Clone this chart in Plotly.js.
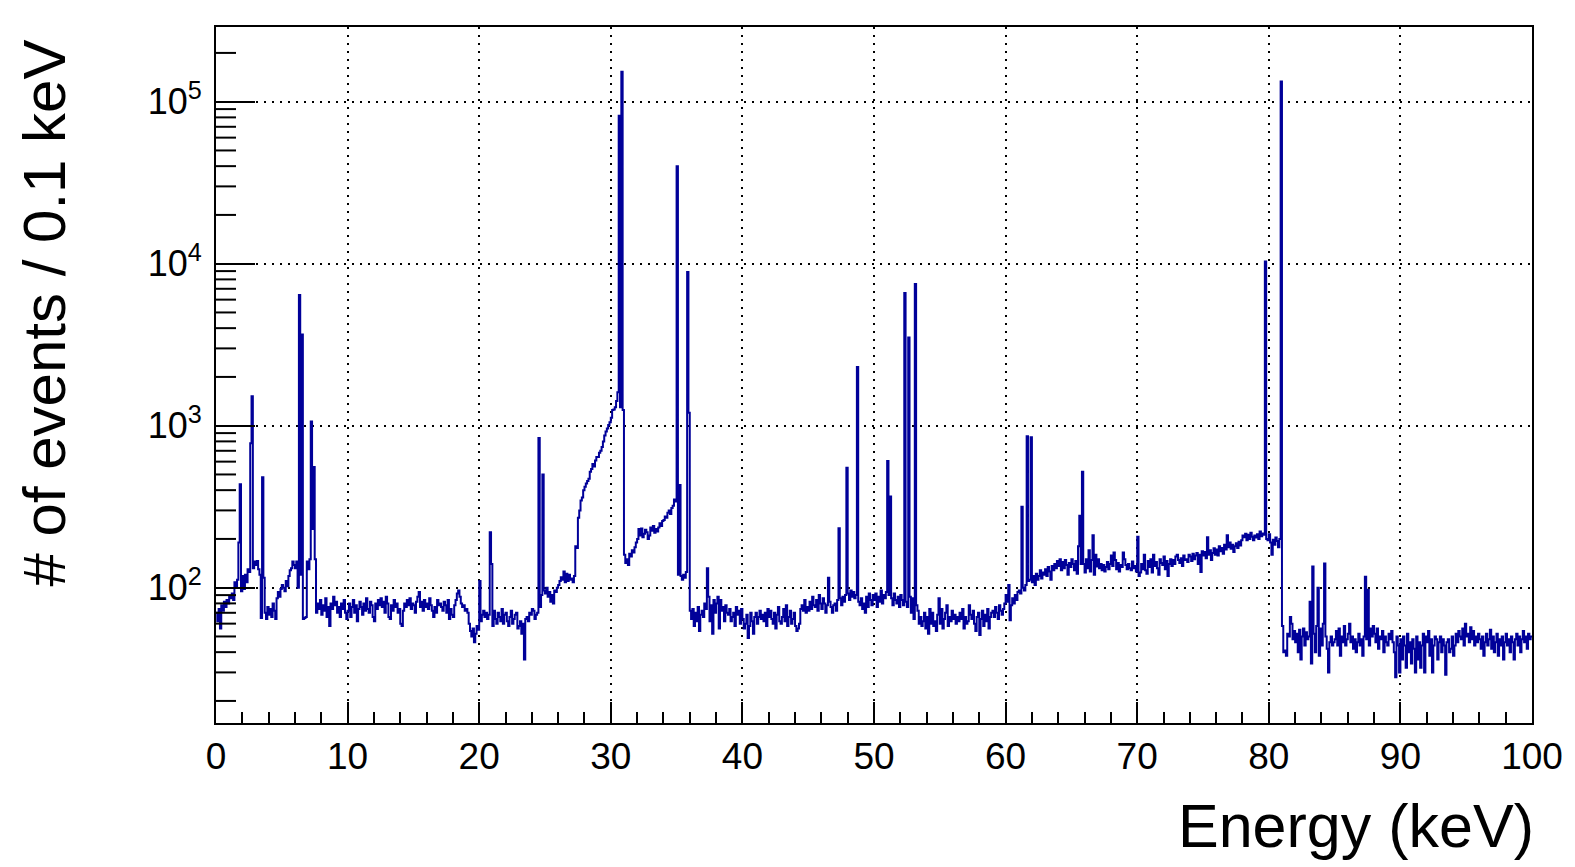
<!DOCTYPE html>
<html>
<head>
<meta charset="utf-8">
<script src="https://cdn.plot.ly/plotly-3.0.1.min.js"></script>
<style>html,body{margin:0;padding:0;background:#fff;}#chart{width:1575px;height:867px;}</style>
</head>
<body>
<div id="chart"></div>
<script>
// Histogram: 0.1 keV bins from 0 to 100 keV, counts per bin
const binWidth = 0.1;
const counts00 = [70,62,74,56,78,72,82,76,84,80, 88,86,92,84,108,100,112,190,435,95,
  118,98,120,108,130,125,780,1520,132,145, 138,146,130,120,65,480,115,70,64,76,
  68,74,66,80,72,64,86,94,88,98, 104,100,95,110,102,118,128,132,145,138,
  132,145,100,6400,120,3650,64,65,66,145, 130,150,1060,230,555,150,70,80,74,84,
  68,78,72,86,66,76,58,80,74,88, 78,82,70,76,66,80,74,84,70,64];
const counts10 = [72,80,66,76,84,70,78,62,74,82, 76,68,80,72,86,74,70,82,78,66,
  62,80,74,84,78,86,76,82,70,88, 80,66,64,78,72,84,76,80,70,74,
  60,58,72,80,76,84,78,86,74,80, 78,70,82,88,94,76,82,72,84,76,
  80,74,86,78,72,66,76,70,84,78, 80,76,72,82,78,70,84,64,74,68,
  66,78,84,92,96,88,80,76,78,72, 74,70,60,54,50,56,46,52,58,55];
const counts20 = [110,62,68,72,66,70,64,68,220,140, 58,72,64,60,70,66,62,74,60,68,
  70,62,58,66,72,60,64,68,70,56, 58,62,52,60,36,64,66,62,70,68,
  74,72,64,68,70,840,76,90,500,96, 92,100,88,94,82,90,80,96,94,100,
  104,110,116,112,126,108,122,110,120,112, 114,108,118,180,176,270,300,345,360,400,
  420,440,455,470,520,540,580,560,610,640, 640,680,700,740,800,870,920,960,1010,1050];
const counts30 = [1120,1250,1260,1300,1420,1610,82000,1300,153000,1250, 160,142,150,138,162,156,170,165,178,190,
  200,230,210,232,205,215,228,220,200,210, 235,225,240,218,230,222,235,250,240,258,
  262,275,270,290,300,285,310,320,350,340, 40000,120,430,118,112,120,115,125,8900,1200,
  72,64,74,58,70,62,76,54,68,72, 66,80,74,132,88,62,78,52,84,70,
  80,88,56,84,72,76,62,78,70,68, 74,62,66,70,58,76,68,72,60,74];
const counts40 = [64,56,60,68,49,58,70,62,52,66, 70,60,66,72,64,68,62,70,58,74,
  66,72,64,60,70,56,68,76,62,60, 66,74,62,78,58,66,72,60,64,70,
  58,54,56,60,74,78,72,84,70,76, 72,82,74,88,78,76,84,72,90,80,
  74,86,80,70,78,115,82,76,70,78, 80,72,84,233,86,78,88,82,90,550,
  92,84,96,88,94,86,90,2300,82,78, 86,74,80,70,88,76,92,84,78,90];
const counts50 = [84,92,76,88,82,96,80,90,86,94, 605,90,365,86,78,92,84,80,88,76,
  90,84,78,6600,82,76,3500,88,70,86, 64,7500,78,72,60,66,58,62,70,56,
  66,52,74,60,70,58,62,54,68,86, 60,74,56,64,70,78,58,66,62,72,
  64,68,60,66,62,70,64,74,56,66, 60,62,78,68,64,72,60,54,66,70,
  51,64,72,58,68,62,74,56,66,70, 72,66,76,70,64,78,72,68,74,80];
const counts60 = [90,82,104,63,78,86,80,90,84,94, 96,92,316,100,96,104,860,110,112,850,
  108,118,104,122,112,118,128,114,124,120, 130,118,134,126,112,136,128,140,132,146,
  136,150,128,144,132,148,138,120,142,134, 150,140,128,146,122,180,278,140,520,140,
  124,150,132,170,126,148,211,120,160,135, 150,132,140,128,138,126,134,144,130,140,
  158,136,165,148,130,142,126,138,134,165, 150,138,130,140,132,128,145,132,136,126];
const counts70 = [206,118,124,140,130,160,128,122,146,134, 150,124,160,136,144,132,120,150,142,138,
  156,130,146,118,140,150,136,148,140,156, 160,148,142,152,136,158,148,150,144,160,
  156,146,162,150,158,164,140,160,125,168, 158,166,152,205,160,170,148,164,175,160,
  172,158,180,168,176,162,184,172,211,178, 190,174,184,166,180,188,176,192,182,196,
  210,205,215,196,212,200,218,206,196,210, 204,214,200,222,208,216,212,10300,200,196];
const counts80 = [214,190,160,198,184,204,194,178,200,133000, 58,40,41,38,52,50,66,60,48,54,
  46,52,40,55,36,50,56,44,53,48, 50,82,34,135,52,40,58,100,38,56,
  44,60,141,50,42,30,46,50,44,46, 48,54,44,56,38,50,46,58,44,48,
  52,60,46,50,42,48,40,46,52,44, 48,38,50,117,48,97,44,56,50,58,
  52,46,56,42,50,48,54,40,50,46, 44,52,48,54,46,40,28,50,44,30];
const counts90 = [48,36,50,44,32,52,40,46,34,48, 42,30,50,36,46,32,44,52,30,50,
  46,54,38,48,30,44,50,48,36,46, 50,40,48,44,29,46,48,40,42,50,
  38,44,52,46,54,50,48,56,44,60, 50,52,46,57,48,54,44,50,46,52,
  48,42,50,38,46,52,44,48,55,42, 50,40,46,52,38,48,44,50,36,46,
  52,44,48,40,50,46,36,48,52,44, 50,40,48,54,46,50,42,52,48,50];

const xTickVals = [0,10,20,30,40,50,60,70,80,90,100];
const xTickText = ['0','10','20','30','40','50','60','70','80','90','100'];
const yTickVals = [100,1000,10000,100000];
const yTickText = ['10<sup>2</sup>','10<sup>3</sup>','10<sup>4</sup>','10<sup>5</sup>'];
const xTitle = 'Energy (keV)';
const yTitle = '# of events / 0.1 keV';

const counts = [].concat(counts00,counts10,counts20,counts30,counts40,counts50,counts60,counts70,counts80,counts90);
// step outline: left bin edges, plus closing edge
const xs = counts.map((c,i)=> +(i*binWidth).toFixed(2));
xs.push(+(counts.length*binWidth).toFixed(2));
const ys = counts.slice();
ys.push(counts[counts.length-1]);

const W = 1575, H = 867;
const M = {l:216, r:43, t:27, b:144};
const plotW = W - M.l - M.r, plotH = H - M.t - M.b;
const yRange = [1.1648, 5.461];
const FONT = 'Liberation Sans, Arial, Helvetica, sans-serif';

// log-axis minor ticks (2..9 x 10^n) drawn inside the frame
const shapes = [];
for (let d = 1; d <= 5; d++) {
  for (let m = 2; m <= 9; m++) {
    const lv = Math.log10(m * Math.pow(10, d));
    if (lv <= yRange[0] || lv >= yRange[1]) continue;
    const f = (lv - yRange[0]) / (yRange[1] - yRange[0]);
    shapes.push({type:'line', xref:'paper', yref:'paper', x0:0, x1:20/plotW, y0:f, y1:f,
      line:{color:'#000', width:2}, layer:'above'});
  }
}

const trace = {
  x: xs, y: ys, type:'scatter', mode:'lines',
  line:{shape:'hv', color:'#000099', width:2},
  hoverinfo:'skip', showlegend:false
};

const layout = {
  width: W, height: H,
  margin: M,
  paper_bgcolor:'#fff', plot_bgcolor:'#fff',
  font:{family:FONT, color:'#000', size:36},
  xaxis:{
    range:[0,100], tickmode:'array', tickvals:xTickVals, ticktext:xTickText,
    ticks:'inside', ticklen:21, tickwidth:2, tickcolor:'#000',
    minor:{dtick:2, tick0:0, ticks:'inside', ticklen:11, tickwidth:2, tickcolor:'#000', showgrid:false},
    showline:true, linewidth:2, linecolor:'#000', mirror:true,
    showgrid:true, gridcolor:'#000', gridwidth:2, griddash:'2px,6px',
    zeroline:false, tickfont:{size:37, family:FONT}, fixedrange:true
  },
  yaxis:{
    type:'log', range:yRange, tickmode:'array', tickvals:yTickVals, ticktext:yTickText,
    ticks:'inside', ticklen:39, tickwidth:2, tickcolor:'#000',
    showline:true, linewidth:2, linecolor:'#000', mirror:true,
    showgrid:true, gridcolor:'#000', gridwidth:2, griddash:'2px,6px',
    zeroline:false, tickfont:{size:36, family:FONT}, ticklabelstandoff:5, fixedrange:true
  },
  shapes: shapes,
  annotations:[
    {text:xTitle, xref:'paper', yref:'paper', x:1.003, y:-(826 - (H - M.b))/plotH,
     xanchor:'right', yanchor:'middle', showarrow:false, font:{size:61, family:FONT, color:'#000'}},
    {text:yTitle, xref:'paper', yref:'paper', x:(44 - M.l)/plotW, y:(H - M.b - 38)/plotH,
     xanchor:'center', yanchor:'top', textangle:-90, showarrow:false, font:{size:60, family:FONT, color:'#000'}}
  ]
};

Plotly.newPlot('chart', [trace], layout, {staticPlot:true, displayModeBar:false});
</script>
</body>
</html>
